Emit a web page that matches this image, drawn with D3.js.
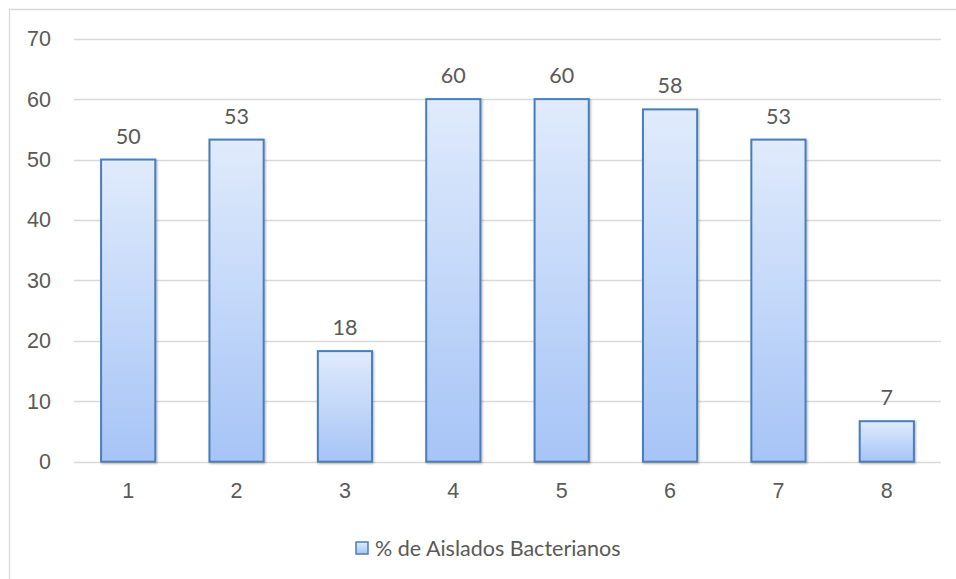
<!DOCTYPE html>
<html>
<head>
<meta charset="utf-8">
<script src="https://cdn.jsdelivr.net/npm/d3@7"></script>
<style>
  body { margin: 0; background: #fff; }
  svg { display: block; font-family: Lato, "Open Sans", sans-serif; }
</style>
</head>
<body>
<div id="chart"></div>
<script>
// data
const categories = ["1", "2", "3", "4", "5", "6", "7", "8"]
const values = [50, 53.3, 18.3, 60, 60, 58.3, 53.3, 6.7]
const yTicks = [0, 10, 20, 30, 40, 50, 60, 70]
const seriesName = "% de Aislados Bacterianos"

const width = 956, height = 579
const margin = {top: 38.7, right: 15, bottom: 117.3, left: 74}
const fontSize = "21.5px"

const svg = d3.select("#chart").append("svg")
    .attr("width", width)
    .attr("height", height)

// gradient fill + soft shadow like the office chart
const defs = svg.append("defs")
const grad = defs.append("linearGradient")
    .attr("id", "barGrad")
    .attr("x1", 0).attr("y1", 0).attr("x2", 0).attr("y2", 1)
grad.append("stop").attr("offset", "0%").attr("stop-color", "#e0ebfc")
grad.append("stop").attr("offset", "100%").attr("stop-color", "#a6c4f6")

const shadow = defs.append("filter").attr("id", "shadow")
    .attr("x", "-20%").attr("y", "-20%").attr("width", "140%").attr("height", "140%")
shadow.append("feDropShadow")
    .attr("dx", 1).attr("dy", 1).attr("stdDeviation", 1.2)
    .attr("flood-color", "#000").attr("flood-opacity", 0.3)

// chart frame (only top and left edges show in the picture)
svg.append("path")
    .attr("d", "M9.5,579 L9.5,9.5 L956,9.5")
    .attr("fill", "none")
    .attr("stroke", "#d9d9d9")
    .attr("stroke-width", 1.3)

const x = d3.scaleBand()
    .domain(categories)
    .range([margin.left, width - margin.right])
    .paddingInner(0.5)
    .paddingOuter(0.25)

const y = d3.scaleLinear()
    .domain([0, 70])
    .range([height - margin.bottom, margin.top])

// gridlines
svg.append("g")
    .selectAll("line")
    .data(yTicks)
    .join("line")
    .attr("x1", margin.left)
    .attr("x2", width - margin.right)
    .attr("y1", d => Math.round(y(d)) + 0.5)
    .attr("y2", d => Math.round(y(d)) + 0.5)
    .attr("stroke", "#d9d9d9")
    .attr("stroke-width", 1.3)

// y axis labels
const yAxis = svg.append("g")
    .attr("transform", `translate(${margin.left - 13},0)`)
    .call(d3.axisLeft(y).tickValues(yTicks).tickSize(0).tickPadding(10))
yAxis.select(".domain").remove()
yAxis.selectAll("text")
    .attr("fill", "#595959")
    .style("font-size", fontSize)

// x axis labels
const xAxis = svg.append("g")
    .attr("transform", `translate(0,${y(0)})`)
    .call(d3.axisBottom(x).tickSize(0).tickPadding(21))
xAxis.select(".domain").remove()
xAxis.selectAll("text")
    .attr("fill", "#595959")
    .style("font-size", fontSize)

// bars
svg.append("g")
    .selectAll("rect")
    .data(values)
    .join("rect")
    .attr("x", (d, i) => x(categories[i]))
    .attr("y", d => y(d))
    .attr("width", x.bandwidth())
    .attr("height", d => y(0) - y(d))
    .attr("fill", "url(#barGrad)")
    .attr("stroke", "#4a7ebb")
    .attr("stroke-width", 2)
    .attr("filter", "url(#shadow)")

// data labels
svg.append("g")
    .selectAll("text")
    .data(values)
    .join("text")
    .attr("x", (d, i) => x(categories[i]) + x.bandwidth() / 2)
    .attr("y", d => y(d) - 16)
    .attr("text-anchor", "middle")
    .attr("fill", "#595959")
    .style("font-size", fontSize)
    .text(d => Math.round(d))

// legend
const legend = svg.append("g")
    .attr("transform", "translate(356,548)")
legend.append("rect")
    .attr("x", 0).attr("y", -6)
    .attr("width", 12).attr("height", 12)
    .attr("fill", "url(#barGrad)")
    .attr("stroke", "#4a7ebb")
    .attr("stroke-width", 1.5)
legend.append("text")
    .attr("x", 19)
    .attr("y", 0)
    .attr("dy", "0.35em")
    .attr("fill", "#595959")
    .style("font-size", fontSize)
    .text(seriesName)
</script>
</body>
</html>
